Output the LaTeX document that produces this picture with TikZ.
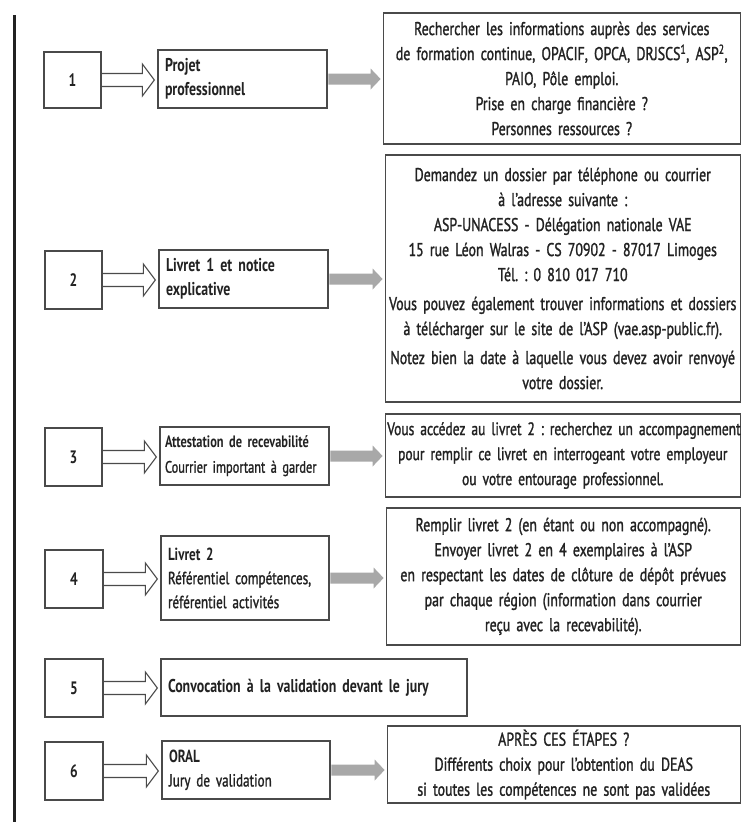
\documentclass[tikz,border=0pt]{standalone}
\usepackage{fontspec}
\setmainfont{PT Sans}[FakeStretch=0.75, UprightFeatures={FakeBold=1.3}]
\usetikzlibrary{calc}
\definecolor{ink}{HTML}{222222}
\definecolor{edge}{HTML}{4a4a4a}
\definecolor{arrowgray}{HTML}{a8a8a8}
\newcommand\hollowarr[2]{%
  \draw[hollowline] ($(#1.east)+(0,-6.5)$) -- ($(#1.east -| #2.west)+(-15,-6.5)$)
   -- ($(#1.east -| #2.west)+(-15,-16)$) -- ($(#1.east -| #2.west)+(-3,0)$)
   -- ($(#1.east -| #2.west)+(-15,16)$) -- ($(#1.east -| #2.west)+(-15,6.5)$)
   -- ($(#1.east)+(0,6.5)$);}
\newcommand\grayarr[2]{%
  \fill[arrowgray] ($(#1.east)+(0.7,-5.5)$) -- ($(#1.east -| #2.west)+(-12,-5.5)$)
   -- ($(#1.east -| #2.west)+(-12,-10.5)$) -- ($(#1.east -| #2.west)+(-2,0)$)
   -- ($(#1.east -| #2.west)+(-12,10.5)$) -- ($(#1.east -| #2.west)+(-12,5.5)$)
   -- ($(#1.east)+(0.7,5.5)$) -- cycle;}
\tikzset{
  numbox/.style={draw=edge, line width=1.3pt, minimum width=57pt, minimum height=57pt,
    inner sep=0pt, text=ink, font=\bfseries\fontsize{18}{20}\selectfont},
  lblbox/.style={draw=edge, line width=1.3pt, inner xsep=7pt, inner ysep=0pt, align=left,
    text=ink, font=\fontsize{17.5}{24}\selectfont},
  biglbl/.style={font=\fontsize{18.5}{24}\selectfont},
  rbox/.style={draw=edge, line width=1.3pt, inner xsep=2pt, inner ysep=0pt, align=center,
    text=ink, font=\fontsize{18.5}{25}\selectfont},
  hollowline/.style={draw=edge, line width=1.1pt, line join=miter},
}
\begin{document}
\frenchspacing
\begin{tikzpicture}[x=1pt,y=-1pt]
\useasboundingbox (0,0) rectangle (741,822);
\fill[white] (0,0) rectangle (741,822);
\fill[ink] (12.5,15) rectangle (15.5,822);

% number boxes
\node[numbox, minimum height=56pt] (n1) at (72.5,80) {1};
\node[numbox, minimum height=58pt] (n2) at (73.5,280) {2};
\node[numbox, minimum height=58pt] (n3) at (73.5,457) {3};
\node[numbox, minimum width=58pt, minimum height=58pt] (n4) at (74,579) {4};
\node[numbox, minimum width=58pt, minimum height=58pt] (n5) at (74,688) {5};
\node[numbox, minimum width=58pt, minimum height=58pt] (n6) at (74,771) {6};

% label boxes
\node[lblbox, biglbl, text width=155pt, minimum height=58pt] (l1) at (242.5,79)
  {\textbf{Projet}\\\textbf{professionnel}};
\node[lblbox, biglbl, text width=155pt, minimum height=58pt] (l2) at (243.5,279)
  {\textbf{Livret 1 et notice}\\\textbf{explicative}};
\node[lblbox, inner xsep=5pt, text width=159pt, minimum height=58pt,
      font=\fontsize{16.5}{25}\selectfont] (l3) at (244.5,456)
  {\textbf{Attestation de recevabilité}\\\mbox{Courrier important à garder}};
\node[lblbox, text width=154pt, minimum height=84pt] (l4) at (245,578)
  {\textbf{Livret 2}\\Référentiel compétences,\\référentiel activités};
\node[lblbox, biglbl, text width=292pt, minimum height=57pt] (l5) at (314,687.5)
  {\textbf{Convocation à la validation devant le jury}};
\node[lblbox, text width=154pt, minimum height=58pt] (l6) at (246,770)
  {\textbf{ORAL}\\Jury de validation};

% right boxes
\node[rbox, text width=353pt, minimum height=131pt] (r1) at (561.75,78.5)
  {Rechercher les informations auprès des services\\
   \mbox{de formation continue, OPACIF, OPCA, DRJSCS\textsuperscript{1}, ASP\textsuperscript{2},}\\
   PAIO, Pôle emploi.\\
   Prise en charge financière ?\\
   Personnes ressources ?};
\node[rbox, text width=351pt, minimum height=247pt] (r2) at (562.75,278.5)
  {Demandez un dossier par téléphone ou courrier\\
   à l’adresse suivante :\\
   ASP-UNACESS - Délégation nationale VAE\\
   \mbox{15 rue Léon Walras - CS 70902 - 87017 Limoges}\\
   Tél. : 0 810 017 710\\[4pt]
   \mbox{Vous pouvez également trouver informations et dossiers}\\
   \mbox{à télécharger sur le site de l’ASP (vae.asp-public.fr).}\\[4pt]
   \mbox{Notez bien la date à laquelle vous devez avoir renvoyé}\\
   votre dossier.};
\node[rbox, text width=351pt, minimum height=83pt, font=\fontsize{18}{25}\selectfont] (r3) at (562.75,455.5)
  {\mbox{Vous accédez au livret 2 : recherchez un accompagnement}\\
   \mbox{pour remplir ce livret en interrogeant votre employeur}\\
   ou votre entourage professionnel.};
\node[rbox, text width=350pt, minimum height=137pt] (r4) at (563.25,576.5)
  {Remplir livret 2 (en étant ou non accompagné).\\
   Envoyer livret 2 en 4 exemplaires à l’ASP\\
   \mbox{en respectant les dates de clôture de dépôt prévues}\\
   par chaque région (information dans courrier\\
   reçu avec la recevabilité).};
\node[rbox, text width=349pt, minimum height=77pt] (r6) at (563.75,764.5)
  {APRÈS CES ÉTAPES ?\\
   Différents choix pour l’obtention du DEAS\\
   \mbox{si toutes les compétences ne sont pas validées}};

% hollow arrows
\hollowarr{n1}{l1}
\hollowarr{n2}{l2}
\hollowarr{n3}{l3}
\hollowarr{n4}{l4}
\hollowarr{n5}{l5}
\hollowarr{n6}{l6}

% gray arrows
\grayarr{l1}{r1}
\grayarr{l2}{r2}
\grayarr{l3}{r3}
\grayarr{l4}{r4}
\grayarr{l6}{r6}
\end{tikzpicture}
\end{document}
